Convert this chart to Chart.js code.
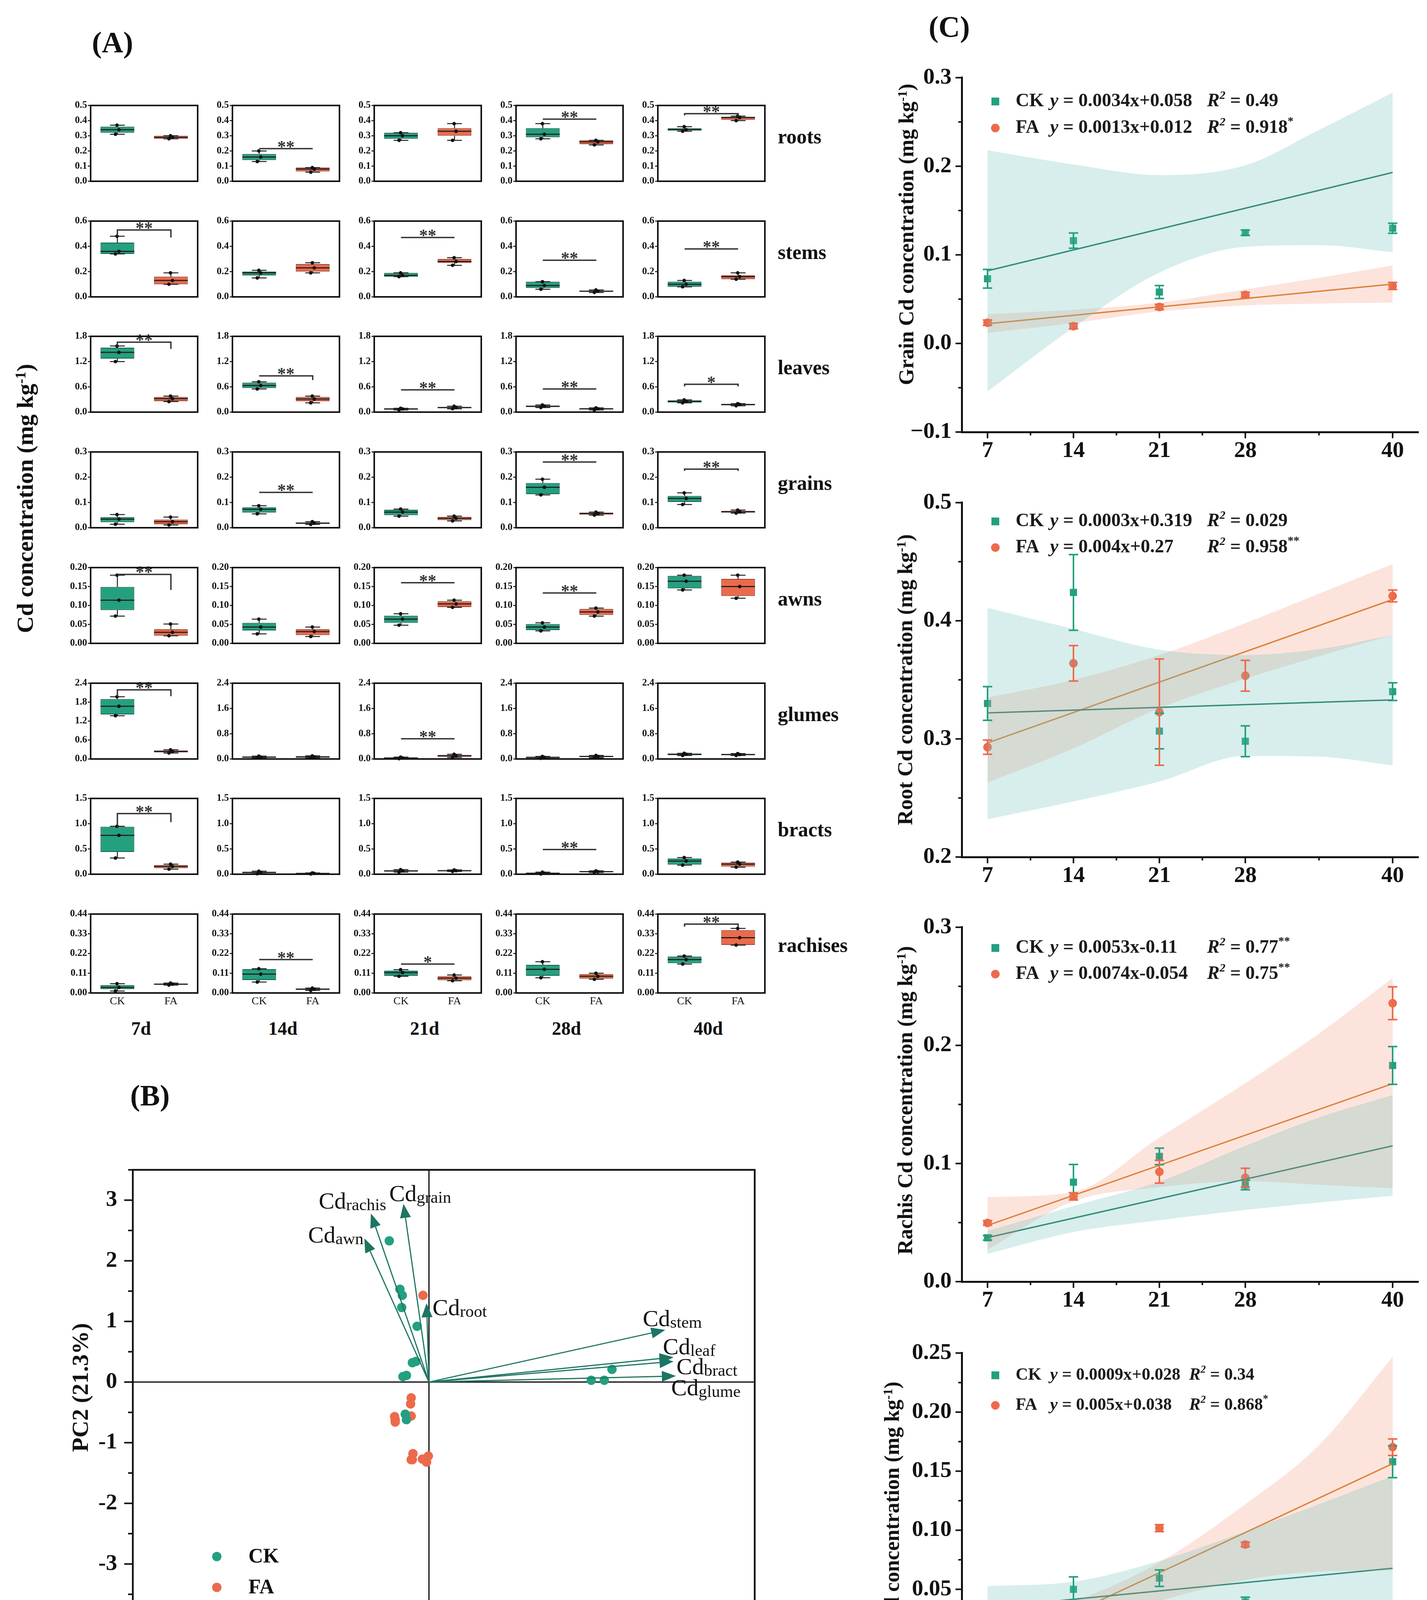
<!DOCTYPE html>
<html>
<head>
<meta charset="utf-8">
<title>Cd concentration in wheat organs</title>
<script src="https://cdn.jsdelivr.net/npm/chart.js@4.4.1/dist/chart.umd.min.js"></script>
<style>
  html, body { margin: 0; padding: 0; background: #fff; }
  body { position: relative; width: 3653px; height: 4560px; overflow: hidden; font-family: "Liberation Serif", "Times New Roman", serif; }
  canvas { position: absolute; }
  .txt { position: absolute; color: #111; font-weight: bold; white-space: nowrap; line-height: 1; }
  .txt sup { font-size: 0.62em; position: relative; top: -0.5em; vertical-align: baseline; }
</style>
</head>
<body>
<script>
// ---------- panel A : box plots, each entry is [min, q1, median, q3, max] ----------
const organs = ['roots', 'stems', 'leaves', 'grains', 'awns', 'glumes', 'bracts', 'rachises'];
const days = ['7d', '14d', '21d', '28d', '40d'];
const groups = ['CK', 'FA'];
const organMax = [0.5, 0.6, 1.8, 0.3, 0.2, 2.4, 1.5, 0.44];
const organDecimals = [1, 1, 1, 1, 2, 1, 1, 2];
const organStep = [
  [0.1, 0.1, 0.1, 0.1, 0.1],
  [0.2, 0.2, 0.2, 0.2, 0.2],
  [0.6, 0.6, 0.6, 0.6, 0.6],
  [0.1, 0.1, 0.1, 0.1, 0.1],
  [0.05, 0.05, 0.05, 0.05, 0.05],
  [0.6, 0.8, 0.8, 0.8, 0.8],
  [0.5, 0.5, 0.5, 0.5, 0.5],
  [0.11, 0.11, 0.11, 0.11, 0.11]
];

const rootsCK = [[0.31, 0.32, 0.34, 0.36, 0.37], [0.13, 0.14, 0.16, 0.18, 0.20], [0.27, 0.28, 0.30, 0.32, 0.32], [0.28, 0.29, 0.31, 0.35, 0.38], [0.33, 0.335, 0.34, 0.35, 0.36]];
const rootsFA = [[0.28, 0.28, 0.29, 0.30, 0.30], [0.06, 0.065, 0.08, 0.09, 0.09], [0.27, 0.30, 0.33, 0.35, 0.38], [0.24, 0.245, 0.26, 0.27, 0.27], [0.40, 0.405, 0.42, 0.425, 0.43]];
const rootsSig = [null, ['**', 0.215], null, ['**', 0.41], ['**', 0.446, 0.434, 0.426]];

const stemsCK = [[0.34, 0.34, 0.36, 0.43, 0.48], [0.15, 0.17, 0.19, 0.20, 0.21], [0.16, 0.16, 0.17, 0.19, 0.19], [0.06, 0.07, 0.09, 0.12, 0.12], [0.08, 0.08, 0.10, 0.12, 0.13]];
const stemsFA = [[0.10, 0.10, 0.13, 0.16, 0.19], [0.19, 0.20, 0.23, 0.26, 0.27], [0.25, 0.27, 0.28, 0.30, 0.31], [0.035, 0.04, 0.045, 0.05, 0.055], [0.14, 0.14, 0.16, 0.17, 0.19]];
const stemsSig = [['**', 0.53, 0.48, 0.47], null, ['**', 0.47], ['**', 0.29], ['**', 0.38]];

const leavesCK = [[1.20, 1.27, 1.42, 1.53, 1.57], [0.55, 0.57, 0.63, 0.70, 0.72], [0.05, 0.06, 0.075, 0.09, 0.09], [0.11, 0.12, 0.14, 0.15, 0.17], [0.22, 0.23, 0.25, 0.28, 0.29]];
const leavesFA = [[0.25, 0.26, 0.32, 0.36, 0.38], [0.22, 0.26, 0.31, 0.36, 0.38], [0.08, 0.09, 0.11, 0.12, 0.14], [0.05, 0.06, 0.08, 0.09, 0.10], [0.15, 0.16, 0.18, 0.19, 0.20]];
const leavesSig = [['**', 1.66, 1.57, 1.50], ['**', 0.86, 0.86, 0.76], ['**', 0.53], ['**', 0.55], ['*', 0.66, 0.61, 0.61]];

const grainsCK = [[0.014, 0.022, 0.034, 0.042, 0.052], [0.055, 0.06, 0.073, 0.081, 0.087], [0.046, 0.05, 0.062, 0.071, 0.074], [0.13, 0.133, 0.16, 0.177, 0.192], [0.092, 0.102, 0.116, 0.126, 0.138]];
const grainsFA = [[0.011, 0.014, 0.024, 0.032, 0.042], [0.013, 0.015, 0.018, 0.021, 0.024], [0.027, 0.03, 0.037, 0.043, 0.046], [0.05, 0.052, 0.056, 0.06, 0.062], [0.058, 0.06, 0.063, 0.067, 0.07]];
const grainsSig = [null, ['**', 0.14], null, ['**', 0.26], ['**', 0.232, 0.225, 0.225]];

const awnsCK = [[0.072, 0.088, 0.114, 0.149, 0.18], [0.025, 0.034, 0.043, 0.054, 0.064], [0.048, 0.054, 0.064, 0.073, 0.078], [0.033, 0.035, 0.043, 0.051, 0.054], [0.141, 0.145, 0.164, 0.178, 0.18]];
const awnsFA = [[0.02, 0.02, 0.029, 0.037, 0.051], [0.018, 0.022, 0.031, 0.037, 0.043], [0.095, 0.096, 0.104, 0.111, 0.114], [0.072, 0.075, 0.083, 0.091, 0.093], [0.119, 0.125, 0.15, 0.17, 0.18]];
const awnsSig = [['**', 0.182, 0.18, 0.141], null, ['**', 0.16], ['**', 0.133], null];

const glumesCK = [[1.37, 1.41, 1.67, 1.9, 1.97], [0.03, 0.04, 0.06, 0.08, 0.09], [0.01, 0.02, 0.03, 0.05, 0.06], [0.02, 0.03, 0.05, 0.07, 0.08], [0.11, 0.12, 0.15, 0.17, 0.18]];
const glumesFA = [[0.19, 0.21, 0.24, 0.27, 0.29], [0.03, 0.04, 0.065, 0.09, 0.1], [0.05, 0.07, 0.1, 0.13, 0.15], [0.04, 0.06, 0.08, 0.1, 0.11], [0.11, 0.12, 0.14, 0.16, 0.17]];
const glumesSig = [['**', 2.19, 1.97, 1.99], null, ['**', 0.64], null, null];

const bractsCK = [[0.32, 0.44, 0.77, 0.94, 0.95], [0.01, 0.02, 0.035, 0.05, 0.06], [0.04, 0.05, 0.065, 0.08, 0.09], [0.005, 0.01, 0.02, 0.03, 0.04], [0.18, 0.19, 0.26, 0.31, 0.33]];
const bractsFA = [[0.1, 0.12, 0.155, 0.18, 0.2], [0.005, 0.01, 0.015, 0.02, 0.025], [0.055, 0.06, 0.07, 0.08, 0.085], [0.035, 0.04, 0.05, 0.06, 0.065], [0.14, 0.15, 0.2, 0.23, 0.24]];
const bractsSig = [['**', 1.2, 0.94, 1.03], null, null, ['**', 0.49], null];

const rachisesCK = [[0.011, 0.021, 0.031, 0.044, 0.052], [0.061, 0.072, 0.105, 0.133, 0.135], [0.093, 0.096, 0.113, 0.124, 0.13], [0.085, 0.096, 0.132, 0.157, 0.174], [0.161, 0.166, 0.186, 0.203, 0.206]];
const rachisesFA = [[0.044, 0.045, 0.049, 0.053, 0.055], [0.014, 0.017, 0.021, 0.025, 0.027], [0.068, 0.071, 0.083, 0.093, 0.1], [0.076, 0.08, 0.093, 0.105, 0.11], [0.267, 0.268, 0.308, 0.35, 0.36]];
const rachisesSig = [null, ['**', 0.186], ['*', 0.161], null, ['**', 0.384, 0.37, 0.37]];

// ---------- panel B : PCA ----------
const ckPC1 = [-0.67, -0.49, -0.45, -0.46, -0.20, -0.28, -0.22, -0.44, -0.38, -0.40, -0.38, 2.74, 2.96, 3.09];
const ckPC2 = [2.33, 1.53, 1.43, 1.23, 0.92, 0.32, 0.34, 0.09, 0.11, -0.53, -0.62, 0.03, 0.03, 0.21];
const faPC1 = [-0.10, -0.30, -0.31, -0.30, -0.58, -0.57, -0.57, -0.27, -0.28, -0.30, -0.11, -0.04, -0.01];
const faPC2 = [1.43, -0.26, -0.36, -0.56, -0.57, -0.66, -0.62, -1.18, -1.28, -1.28, -1.27, -1.32, -1.22];
const loadNames = ['root', 'stem', 'leaf', 'bract', 'glume', 'awn', 'rachis', 'grain'];
const loadPC1 = [-0.04, 3.99, 4.13, 4.13, 4.17, -1.09, -0.98, -0.43];
const loadPC2 = [1.30, 0.86, 0.41, 0.34, 0.10, 2.37, 2.78, 2.94];
const loadLabelPC1 = [0.06, 3.61, 3.95, 4.18, 4.09, -2.04, -1.86, -0.67];
const loadLabelPC2 = [1.23, 1.05, 0.59, 0.26, -0.09, 2.43, 2.99, 3.11];

// ---------- panel C : trends over days after anthesis ----------
const dayX = [7, 14, 21, 28, 40];
const dayMinorX = [10.5, 17.5, 24.5, 34];
const bandX = [7, 14, 21, 28, 34, 40];
const fitX = [7, 40];

const grainCK = [0.073, 0.116, 0.058, 0.125, 0.130];
const grainCKErr = [0.0105, 0.0086, 0.0073, 0.003, 0.0057];
const grainFA = [0.0234, 0.0195, 0.0412, 0.0548, 0.0649];
const grainFAErr = [0.003, 0.003, 0.003, 0.003, 0.004];
const grainFitCK = [0.082, 0.193];
const grainFitFA = [0.0222, 0.067];
const grainBandCKHi = [0.218, 0.202, 0.190, 0.201, 0.241, 0.283];
const grainBandCKLo = [-0.054, 0.018, 0.080, 0.109, 0.111, 0.103];
const grainBandFAHi = [0.033, 0.038, 0.046, 0.061, 0.074, 0.088];
const grainBandFALo = [0.012, 0.023, 0.036, 0.043, 0.045, 0.046];
const grainEq = ['0.0034x+0.058', '0.0013x+0.012'];
const grainR2 = ['0.49', '0.918'];
const grainStars = ['', '*'];

const rootCK = [0.330, 0.424, 0.3066, 0.298, 0.340];
const rootCKErr = [0.0143, 0.032, 0.015, 0.013, 0.0075];
const rootFA = [0.293, 0.364, 0.3227, 0.3535, 0.421];
const rootFAErr = [0.006, 0.015, 0.045, 0.013, 0.005];
const rootFitCK = [0.322, 0.333];
const rootFitFA = [0.2966, 0.418];
const rootBandCKHi = [0.411, 0.393, 0.3755, 0.371, 0.376, 0.388];
const rootBandCKLo = [0.232, 0.247, 0.264, 0.2856, 0.285, 0.2776];
const rootBandFAHi = [0.335, 0.350, 0.371, 0.398, 0.423, 0.448];
const rootBandFALo = [0.263, 0.292, 0.326, 0.351, 0.370, 0.388];
const rootEq = ['0.0003x+0.319', '0.004x+0.27'];
const rootR2 = ['0.029', '0.958'];
const rootStars = ['', '**'];

const rachisCK = [0.0371, 0.0842, 0.106, 0.0818, 0.183];
const rachisCKErr = [0.002, 0.015, 0.007, 0.004, 0.016];
const rachisFA = [0.0497, 0.0722, 0.093, 0.088, 0.2357];
const rachisFAErr = [0.002, 0.003, 0.0096, 0.008, 0.0139];
const rachisFitCK = [0.0373, 0.115];
const rachisFitFA = [0.0476, 0.1676];
const rachisBandCKHi = [0.043, 0.064, 0.0847, 0.115, 0.139, 0.158];
const rachisBandCKLo = [0.0236, 0.042, 0.052, 0.0607, 0.067, 0.0727];
const rachisBandFAHi = [0.0716, 0.076, 0.122, 0.168, 0.21, 0.257];
const rachisBandFALo = [0.027, 0.068, 0.080, 0.085, 0.082, 0.079];
const rachisEq = ['0.0053x-0.11', '0.0074x-0.054'];
const rachisR2 = ['0.77', '0.75'];
const rachisStars = ['**', '**'];

const awnCK = [0.0345, 0.050, 0.0594, 0.0393, 0.158];
const awnCKErr = [0.002, 0.0105, 0.007, 0.004, 0.0135];
const awnFA = [0.0194, 0.0287, 0.1018, 0.0879, 0.1703];
const awnFAErr = [0.004, 0.002, 0.003, 0.002, 0.007];
const awnFitCK = [0.0345, 0.0678];
const awnFitFA = [-0.004, 0.1564];
const awnBandCKHi = [0.0527, 0.0564, 0.074, 0.099, 0.122, 0.146];
const awnBandCKLo = [0.018, 0.022, 0.020, 0.011, 0.0, -0.012];
const awnBandFAHi = [0.022, 0.04, 0.0728, 0.122, 0.172, 0.2467];
const awnBandFALo = [-0.032, 0.015, 0.04, 0.058, 0.065, 0.066];
const awnEq = ['0.0009x+0.028', '0.005x+0.038'];
const awnR2 = ['0.34', '0.868'];
const awnStars = ['', '*'];

// ---------- drawing ----------
const SERIF = '"Liberation Serif", "Times New Roman", serif';
const INK = '#111';
const GREEN = '#23a07f', ORANGE = '#ec6a4c';
const GREEN_DARK = '#16634f', ORANGE_DARK = '#9e3f2a';
const LINE_GREEN = '#1e7564', LINE_ORANGE = '#d9822b';
const BAND_GREEN = 'rgba(110,195,185,0.28)', BAND_ORANGE = 'rgba(240,130,100,0.22)';
const ARROW = '#1d7563';

Chart.defaults.font.family = SERIF;
Chart.defaults.color = INK;

function mount(area, pad) {
  const w = Math.round(area[2] + pad[0] + pad[2]), h = Math.round(area[3] + pad[1] + pad[3]);
  const cv = document.createElement('canvas');
  cv.width = w; cv.height = h;
  cv.style.left = Math.round(area[0] - pad[0]) + 'px';
  cv.style.top = Math.round(area[1] - pad[1]) + 'px';
  cv.style.width = w + 'px'; cv.style.height = h + 'px';
  document.body.appendChild(cv);
  return cv;
}

function baseOptions(pad) {
  return {
    responsive: false, animation: false, devicePixelRatio: 1, events: [],
    layout: { autoPadding: false, padding: { left: 0, top: pad[1], right: pad[2], bottom: 0 } },
    plugins: { legend: { display: false }, tooltip: { enabled: false } }
  };
}

function stepTicks(min, max, step) {
  const n = Math.round((max - min) / step);
  const out = [];
  for (let i = 0; i <= n; i++) out.push({ value: +(min + i * step).toFixed(6) });
  return out;
}

function isMajor(v, step) {
  const q = v / step;
  return Math.abs(q - Math.round(q)) < 1e-6;
}

function fmt(v, dec) {
  return (v < 0 ? '\u2212' : '') + Math.abs(v).toFixed(dec);
}

function tickMarks(spec) {
  return {
    id: 'tickMarks',
    afterDraw(chart) {
      const { ctx, chartArea: a } = chart;
      ctx.save();
      ctx.strokeStyle = INK;
      Object.keys(spec).forEach(id => {
        const s = chart.scales[id], o = spec[id];
        ctx.lineWidth = o.width;
        s.ticks.forEach(t => {
          const major = o.majors ? o.majors.includes(t.value) : isMajor(t.value, o.step);
          const len = major ? o.len : o.len * 0.55;
          const p = s.getPixelForValue(t.value);
          ctx.beginPath();
          if (id === 'x') { ctx.moveTo(p, a.bottom); ctx.lineTo(p, a.bottom + len); }
          else { ctx.moveTo(a.left, p); ctx.lineTo(a.left - len, p); }
          ctx.stroke();
        });
      });
      ctx.restore();
    }
  };
}

function addText(html, x, y, size, opts = {}) {
  const d = document.createElement('div');
  d.className = 'txt';
  d.innerHTML = html;
  d.style.left = x + 'px';
  d.style.top = y + 'px';
  d.style.fontSize = size + 'px';
  let tf = opts.left ? 'translate(0,-50%)' : 'translate(-50%,-50%)';
  if (opts.rotate) tf += ' rotate(-90deg)';
  d.style.transform = tf;
  document.body.appendChild(d);
}

// ---- panel A ----
const boxCK = [rootsCK, stemsCK, leavesCK, grainsCK, awnsCK, glumesCK, bractsCK, rachisesCK];
const boxFA = [rootsFA, stemsFA, leavesFA, grainsFA, awnsFA, glumesFA, bractsFA, rachisesFA];
const boxSig = [rootsSig, stemsSig, leavesSig, grainsSig, awnsSig, glumesSig, bractsSig, rachisesSig];

function boxExtras(ck, fa, sig) {
  return {
    id: 'boxExtras',
    afterDatasetsDraw(chart) {
      const { ctx, chartArea: a, scales: { x, y } } = chart;
      const bw = (x.getPixelForValue(1) - x.getPixelForValue(0)) * 0.63;
      const py = v => y.getPixelForValue(v);
      ctx.save();
      [ck, fa].forEach((b, i) => {
        const cx = x.getPixelForValue(i);
        ctx.strokeStyle = '#222';
        ctx.lineWidth = 2.5;
        ctx.beginPath();
        ctx.moveTo(cx, py(b[0])); ctx.lineTo(cx, py(b[1]));
        ctx.moveTo(cx, py(b[3])); ctx.lineTo(cx, py(b[4]));
        ctx.moveTo(cx - bw * 0.22, py(b[0])); ctx.lineTo(cx + bw * 0.22, py(b[0]));
        ctx.moveTo(cx - bw * 0.22, py(b[4])); ctx.lineTo(cx + bw * 0.22, py(b[4]));
        ctx.stroke();
        ctx.lineWidth = 3;
        ctx.beginPath();
        ctx.moveTo(cx - bw / 2, py(b[2])); ctx.lineTo(cx + bw / 2, py(b[2]));
        ctx.stroke();
        ctx.fillStyle = '#111';
        [b[0], b[2], b[4]].forEach((v, k) => {
          ctx.beginPath();
          ctx.arc(cx + [-5, 4, -1][k], py(v), 4.5, 0, Math.PI * 2);
          ctx.fill();
        });
      });
      if (sig) {
        const x0 = x.getPixelForValue(0), x1 = x.getPixelForValue(1), yb = py(sig[1]);
        ctx.strokeStyle = '#333';
        ctx.lineWidth = 3.5;
        ctx.beginPath();
        ctx.moveTo(x0, py(sig.length > 2 ? sig[2] : sig[1]));
        ctx.lineTo(x0, yb); ctx.lineTo(x1, yb);
        ctx.lineTo(x1, py(sig.length > 3 ? sig[3] : sig[1]));
        ctx.stroke();
        ctx.fillStyle = '#333';
        ctx.font = 'bold 44px ' + SERIF;
        ctx.textAlign = 'center';
        ctx.textBaseline = 'alphabetic';
        ctx.fillText(sig[0], (x0 + x1) / 2, yb + 9);
      }
      ctx.strokeStyle = INK;
      ctx.lineWidth = 4;
      ctx.strokeRect(a.left, a.top, a.right - a.left, a.bottom - a.top);
      ctx.restore();
    }
  };
}

organs.forEach((organ, r) => {
  const rowTop = 262 + r * 295.7;
  const last = r === organs.length - 1;
  days.forEach((day, c) => {
    const area = [232 + c * 363, rowTop, 274, 210];
    const pad = [64, 16, 10, last ? 50 : 16];
    const ck = boxCK[r][c], fa = boxFA[r][c];
    const max = organMax[r], step = organStep[r][c], dec = organDecimals[r];
    new Chart(mount(area, pad), {
      type: 'bar',
      data: {
        labels: groups,
        datasets: [{
          data: [[ck[1], ck[3]], [fa[1], fa[3]]],
          backgroundColor: [GREEN, ORANGE],
          borderColor: [GREEN_DARK, ORANGE_DARK],
          borderWidth: 2, borderSkipped: false,
          barPercentage: 0.63, categoryPercentage: 1
        }]
      },
      options: Object.assign(baseOptions(pad), {
        scales: {
          x: {
            grid: { display: false, drawTicks: false }, border: { display: false },
            ticks: { display: last, font: { size: 28 }, padding: 5 },
            afterFit: s => { s.height = pad[3]; }
          },
          y: {
            min: 0, max: max,
            grid: { display: false, drawTicks: false }, border: { display: false },
            afterBuildTicks: s => { s.ticks = stepTicks(0, max, step); },
            ticks: { autoSkip: false, font: { size: 25, weight: 'bold' }, padding: 9, callback: v => v.toFixed(dec) },
            afterFit: s => { s.width = pad[0]; }
          }
        }
      }),
      plugins: [boxExtras(ck, fa, boxSig[r][c]), tickMarks({ y: { len: 7, width: 2.5, step: step } })]
    });
  });
  addText(organ, 1991, Math.round(rowTop + 88), 52, { left: true });
});
days.forEach((day, c) => addText(day, Math.round(232 + c * 363 + 137 - 8), 2633, 48));
addText('(A)', 288, 108, 76);
addText('Cd concentration (mg kg<sup>-1</sup>)', 64, 1276, 60, { rotate: true });

// ---- panel B ----
function arrowTo(ctx, x0, y0, x1, y1) {
  const ang = Math.atan2(y1 - y0, x1 - x0), L = 36, W = 14;
  const bx = x1 - L * Math.cos(ang), by = y1 - L * Math.sin(ang);
  ctx.beginPath(); ctx.moveTo(x0, y0); ctx.lineTo(bx, by); ctx.stroke();
  ctx.beginPath();
  ctx.moveTo(x1, y1);
  ctx.lineTo(bx + W * Math.sin(ang), by - W * Math.cos(ang));
  ctx.lineTo(bx - W * Math.sin(ang), by + W * Math.cos(ang));
  ctx.closePath(); ctx.fill();
}

const pcaExtras = {
  id: 'pcaExtras',
  beforeDatasetsDraw(chart) {
    const { ctx, chartArea: a, scales: { x, y } } = chart;
    const x0 = x.getPixelForValue(0), y0 = y.getPixelForValue(0);
    ctx.save();
    ctx.strokeStyle = '#222'; ctx.lineWidth = 3.5;
    ctx.beginPath();
    ctx.moveTo(x0, a.top); ctx.lineTo(x0, a.bottom);
    ctx.moveTo(a.left, y0); ctx.lineTo(a.right, y0);
    ctx.stroke();
    ctx.restore();
  },
  afterDatasetsDraw(chart) {
    const { ctx, chartArea: a, scales: { x, y } } = chart;
    const x0 = x.getPixelForValue(0), y0 = y.getPixelForValue(0);
    ctx.save();
    ctx.strokeStyle = ARROW; ctx.fillStyle = ARROW; ctx.lineWidth = 3;
    loadNames.forEach((n, i) => arrowTo(ctx, x0, y0, x.getPixelForValue(loadPC1[i]), y.getPixelForValue(loadPC2[i])));
    ctx.fillStyle = INK; ctx.textAlign = 'left'; ctx.textBaseline = 'alphabetic';
    loadNames.forEach((n, i) => {
      const lx = x.getPixelForValue(loadLabelPC1[i]), ly = y.getPixelForValue(loadLabelPC2[i]) + 20;
      ctx.font = '60px ' + SERIF;
      ctx.fillText('Cd', lx, ly);
      const w = ctx.measureText('Cd').width;
      ctx.font = '43px ' + SERIF;
      ctx.fillText(n, lx + w, ly + 4);
    });
    // legend
    [GREEN, ORANGE].forEach((col, i) => {
      const ly = a.top + [990, 1069][i];
      ctx.fillStyle = col;
      ctx.beginPath(); ctx.arc(a.left + 215, ly, 12, 0, Math.PI * 2); ctx.fill();
      ctx.fillStyle = INK; ctx.font = 'bold 52px ' + SERIF; ctx.textBaseline = 'middle';
      ctx.fillText(groups[i], a.left + 296, ly + 2);
    });
    ctx.strokeStyle = INK; ctx.lineWidth = 4.5;
    ctx.strokeRect(a.left, a.top, a.right - a.left, a.bottom - a.top);
    ctx.restore();
  }
};

(function () {
  const area = [340, 2940, 1608, 1219];
  const pad = [160, 20, 20, 110];
  new Chart(mount(area, pad), {
    type: 'scatter',
    data: {
      datasets: [
        { data: ckPC1.map((v, i) => ({ x: v, y: ckPC2[i] })), backgroundColor: GREEN, pointRadius: 12, borderWidth: 0 },
        { data: faPC1.map((v, i) => ({ x: v, y: faPC2[i] })), backgroundColor: ORANGE, pointRadius: 12, borderWidth: 0 }
      ]
    },
    options: Object.assign(baseOptions(pad), {
      scales: {
        x: {
          type: 'linear', min: -5, max: 5.5,
          grid: { display: false, drawTicks: false }, border: { display: false },
          afterBuildTicks: s => { s.ticks = stepTicks(-5, 5.5, 0.5); },
          ticks: { autoSkip: false, maxRotation: 0, font: { size: 58, weight: 'bold' }, padding: 36, callback: v => Number.isInteger(v) ? String(v) : '' },
          afterFit: s => { s.height = pad[3]; }
        },
        y: {
          type: 'linear', min: -4, max: 3.5,
          grid: { display: false, drawTicks: false }, border: { display: false },
          afterBuildTicks: s => { s.ticks = stepTicks(-4, 3.5, 0.5); },
          ticks: { autoSkip: false, font: { size: 58, weight: 'bold' }, padding: 40, callback: v => Number.isInteger(v) ? String(v) : '' },
          afterFit: s => { s.width = pad[0]; }
        }
      }
    }),
    plugins: [pcaExtras, tickMarks({ x: { len: 22, width: 4, step: 1 }, y: { len: 22, width: 4, step: 1 } })]
  });
})();
addText('(B)', 384, 2804, 76);
addText('PC1 (49.1%)', 1139, 4329, 60);
addText('PC2 (21.3%)', 205, 3552, 60, { rotate: true });

// ---- panel C ----
const C_LEFT = 2462, C_W = 1169, C_H = 928;
const trendPanels = [
  { top: 178, min: -0.1, max: 0.3, step: 0.05, major: 0.1, dec: 1, ck: grainCK, ckErr: grainCKErr, fa: grainFA, faErr: grainFAErr,
    ckFit: grainFitCK, faFit: grainFitFA, ckHi: grainBandCKHi, ckLo: grainBandCKLo, faHi: grainBandFAHi, faLo: grainBandFALo,
    eq: grainEq, r2: grainR2, stars: grainStars, rX: 628, legendY: [61, 129], legendSize: 48,
    title: 'Grain Cd concentration (mg kg<sup>-1</sup>)', titleX: 2320, titleY: 600 },
  { top: 1266, min: 0.2, max: 0.5, step: 0.05, major: 0.1, dec: 1, ck: rootCK, ckErr: rootCKErr, fa: rootFA, faErr: rootFAErr,
    ckFit: rootFitCK, faFit: rootFitFA, ckHi: rootBandCKHi, ckLo: rootBandCKLo, faHi: rootBandFAHi, faLo: rootBandFALo,
    eq: rootEq, r2: rootR2, stars: rootStars, rX: 628, legendY: [48, 115], legendSize: 48,
    title: 'Root Cd concentration (mg kg<sup>-1</sup>)', titleX: 2317, titleY: 1740 },
  { top: 2353, min: 0, max: 0.3, step: 0.05, major: 0.1, dec: 1, ck: rachisCK, ckErr: rachisCKErr, fa: rachisFA, faErr: rachisFAErr,
    ckFit: rachisFitCK, faFit: rachisFitFA, ckHi: rachisBandCKHi, ckLo: rachisBandCKLo, faHi: rachisBandFAHi, faLo: rachisBandFALo,
    eq: rachisEq, r2: rachisR2, stars: rachisStars, rX: 628, legendY: [53, 120], legendSize: 48,
    title: 'Rachis Cd concentration (mg kg<sup>-1</sup>)', titleX: 2317, titleY: 2817 },
  { top: 3443, min: -0.05, max: 0.25, step: 0.025, major: 0.05, dec: 2, ck: awnCK, ckErr: awnCKErr, fa: awnFA, faErr: awnFAErr,
    ckFit: awnFitCK, faFit: awnFitFA, ckHi: awnBandCKHi, ckLo: awnBandCKLo, faHi: awnBandFAHi, faLo: awnBandFALo,
    eq: awnEq, r2: awnR2, stars: awnStars, rX: 582, legendY: [57, 134], legendSize: 44,
    title: 'Awn Cd concentration (mg kg<sup>-1</sup>)', titleX: 2283, titleY: 3906 }
];

function drawRich(ctx, parts, x, y) {
  parts.forEach(([t, font, dy]) => {
    ctx.font = font;
    ctx.fillText(t, x, y + dy);
    x += ctx.measureText(t).width;
  });
}

function trendExtras(cfg) {
  return {
    id: 'trendExtras',
    afterDatasetsDraw(chart) {
      const { ctx, chartArea: a, scales: { x, y } } = chart;
      ctx.save();
      [[cfg.ck, cfg.ckErr, GREEN], [cfg.fa, cfg.faErr, ORANGE]].forEach(([m, e, col]) => {
        ctx.strokeStyle = col; ctx.lineWidth = 4;
        dayX.forEach((d, i) => {
          const px = x.getPixelForValue(d), lo = y.getPixelForValue(m[i] - e[i]), hi = y.getPixelForValue(m[i] + e[i]);
          ctx.beginPath();
          ctx.moveTo(px, lo); ctx.lineTo(px, hi);
          ctx.moveTo(px - 12, lo); ctx.lineTo(px + 12, lo);
          ctx.moveTo(px - 12, hi); ctx.lineTo(px + 12, hi);
          ctx.stroke();
        });
      });
      const fs = cfg.legendSize, ss = Math.round(fs * 0.62);
      const B = 'bold ' + fs + 'px ' + SERIF, I = 'italic bold ' + fs + 'px ' + SERIF;
      const S = 'italic bold ' + ss + 'px ' + SERIF, SB = 'bold ' + ss + 'px ' + SERIF;
      ctx.textAlign = 'left'; ctx.textBaseline = 'middle';
      groups.forEach((g, i) => {
        const yy = a.top + cfg.legendY[i];
        ctx.fillStyle = i ? ORANGE : GREEN;
        if (i === 0) ctx.fillRect(a.left + 86 - 10, yy - 10, 20, 20);
        else { ctx.beginPath(); ctx.arc(a.left + 86, yy, 11, 0, Math.PI * 2); ctx.fill(); }
        ctx.fillStyle = '#1a1a1a';
        ctx.font = B;
        ctx.fillText(g, a.left + 138, yy);
        drawRich(ctx, [['y', I, 0], [' = ' + cfg.eq[i], B, 0]], a.left + 226, yy);
        drawRich(ctx, [['R', I, 0], ['2', S, -fs * 0.31], [' = ' + cfg.r2[i], B, 0], [cfg.stars[i], SB, -fs * 0.35]], a.left + cfg.rX, yy);
      });
      ctx.restore();
    }
  };
}

function trendChart(cfg) {
  const area = [C_LEFT, cfg.top, C_W, C_H];
  const pad = [200, 40, 16, 100];
  const pts = (xs, ys) => xs.map((v, i) => ({ x: v, y: ys[i] }));
  const band = (ys, fill, color) => ({ data: pts(bandX, ys), borderWidth: 0, pointRadius: 0, fill: fill, backgroundColor: color, cubicInterpolationMode: 'monotone' });
  new Chart(mount(area, pad), {
    type: 'line',
    data: {
      datasets: [
        band(cfg.ckHi, '+1', BAND_GREEN), band(cfg.ckLo, false, BAND_GREEN),
        band(cfg.faHi, '+1', BAND_ORANGE), band(cfg.faLo, false, BAND_ORANGE),
        { data: pts(fitX, cfg.ckFit), borderColor: LINE_GREEN, borderWidth: 3.5, pointRadius: 0, fill: false },
        { data: pts(fitX, cfg.faFit), borderColor: LINE_ORANGE, borderWidth: 3.5, pointRadius: 0, fill: false },
        { data: pts(dayX, cfg.fa), showLine: false, fill: false, pointStyle: 'circle', pointRadius: 11, backgroundColor: ORANGE, borderColor: ORANGE, borderWidth: 0 },
        { data: pts(dayX, cfg.ck), showLine: false, fill: false, pointStyle: 'rect', pointRadius: 13, backgroundColor: GREEN, borderColor: GREEN, borderWidth: 0 }
      ]
    },
    options: Object.assign(baseOptions(pad), {
      scales: {
        x: {
          type: 'linear', min: 4.9, max: 42.1,
          grid: { display: false, drawTicks: false }, border: { display: true, color: INK, width: 5 },
          afterBuildTicks: s => { s.ticks = dayX.concat(dayMinorX).sort((p, q) => p - q).map(v => ({ value: v })); },
          ticks: { autoSkip: false, maxRotation: 0, font: { size: 58, weight: 'bold' }, padding: 14, callback: v => dayX.includes(v) ? String(v) : '' },
          afterFit: s => { s.height = pad[3]; }
        },
        y: {
          type: 'linear', min: cfg.min, max: cfg.max,
          grid: { display: false, drawTicks: false }, border: { display: true, color: INK, width: 5 },
          afterBuildTicks: s => { s.ticks = stepTicks(cfg.min, cfg.max, cfg.step); },
          ticks: { autoSkip: false, font: { size: 58, weight: 'bold' }, padding: 26, callback: v => isMajor(v, cfg.major) ? fmt(v, cfg.dec) : '' },
          afterFit: s => { s.width = pad[0]; }
        }
      }
    }),
    plugins: [trendExtras(cfg), tickMarks({ x: { len: 16, width: 4, majors: dayX }, y: { len: 16, width: 4, step: cfg.major } })]
  });
  addText(cfg.title, cfg.titleX, cfg.titleY, 54, { rotate: true });
}

trendPanels.forEach(trendChart);
addText('(C)', 2430, 68, 76);
addText('Day after anthesis', 3051, 4511, 60);
</script>
</body>
</html>
